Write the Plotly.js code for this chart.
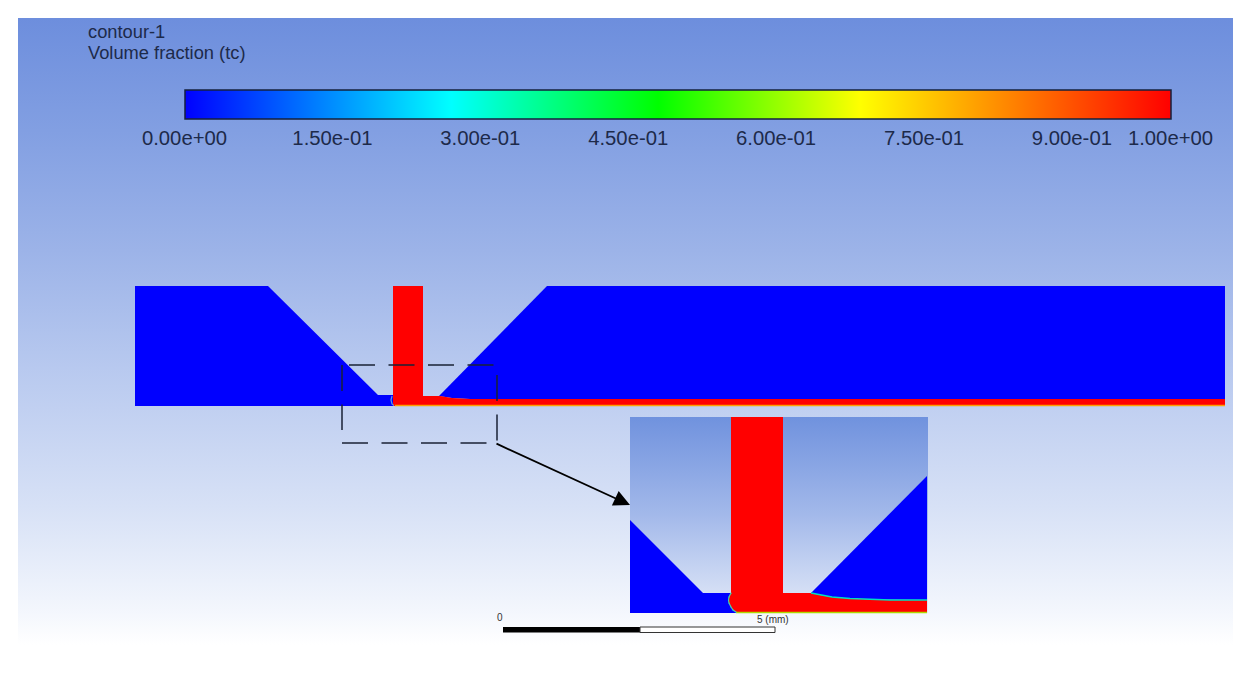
<!DOCTYPE html>
<html>
    <head>
        <meta charset="utf-8">
        <title>contour-1</title>
        <script src="https://cdn.plot.ly/plotly-3.0.1.min.js"></script>
        <style type="text/css">
            html, body {margin:0; padding:0; background:#fff;}
            #chart {width:1250px; height:680px;}
        </style>
    </head>

    <body>
        <div id="chart"></div>
        <script>
            // colour bar
            var barTickVals = [0, 0.15, 0.3, 0.45, 0.6, 0.75, 0.9, 1];
            var barTickText = ['0.00e+00', '1.50e-01', '3.00e-01', '4.50e-01', '6.00e-01', '7.50e-01', '9.00e-01', '1.00e+00'];
            var barStops = [0, 0.27, 0.48, 0.685, 1];
            var barColors = ['#0000ff', '#00ffff', '#00ff00', '#ffff00', '#ff0000'];

            // viewport background, top to bottom
            var bgX = [18, 1233, 1233, 18];
            var bgY = [18, 18, 645, 645];
            var insetBgX = [630, 928, 928, 630];
            var insetBgY = [417, 417, 613, 613];
            var bgStops = [0, 0.18, 0.37, 0.56, 0.78, 0.95, 1];
            var bgColors = ['#6d8edd', '#829fe2', '#9cb3e8', '#b8c9ef', '#d7e1f6', '#f4f7fd', '#ffffff'];
            var insetStops = [0, 0.5, 1];
            var insetColors = ['#7092de', '#a3b9ea', '#e2e9f8'];

            // main view, pixels of the picture
            var leftBlueX = [135, 268, 378, 393, 393, 135];
            var leftBlueY = [286, 286, 395, 395, 406, 406];
            var rightBlueX = [439, 547, 1225, 1225, 470, 452];
            var rightBlueY = [396, 286, 286, 399, 399, 398];
            var redX = [393, 423, 423, 440, 452, 470, 1225, 1225, 393];
            var redY = [286, 286, 396, 396, 398, 399, 399, 406, 406];
            var filmX = [395, 1225];
            var filmY = [405.5, 405.5];
            var mainNozzleX = [392, 391, 392, 394];
            var mainNozzleY = [396, 400, 404, 405.5];

            // zoomed view
            var insetLeftX = [630, 703, 731, 729, 728.5, 729, 731, 733, 736, 736, 630];
            var insetLeftY = [520, 593, 593, 597, 600, 603, 607, 610, 612, 613, 613];
            var insetRightX = [811, 927, 927, 890, 870, 850, 832, 820];
            var insetRightY = [593, 476, 600, 600, 599.5, 598.5, 597, 595];
            var insetRedX = [731, 783, 783, 811, 820, 832, 850, 870, 890, 927, 927, 736, 733, 731, 729, 728.5, 729, 731];
            var insetRedY = [417, 417, 593, 593, 595, 597, 598.5, 599.5, 600, 600, 612, 612, 610, 607, 603, 600, 597, 593];
            var lowerEdgeX = [736, 927];
            var lowerEdgeY = [612.5, 612.5];
            var upperEdgeX = [811, 820, 832, 850, 870, 890, 927];
            var upperEdgeY = [593, 595, 597, 598.5, 599.5, 600, 600];
            var nozzleEdgeX = [731, 729, 728.5, 729, 731, 733, 736];
            var nozzleEdgeY = [593, 597, 600, 603, 607, 610, 612];
            var edgeValues = [0.3, 0.3, 0.3, 0.3, 0.3, 0.3, 0.3];

            // dashed box round the zoomed region, one run per side
            var boxX = [349, 497, null, 497, 497, null, 342, 487, null, 342, 342];
            var boxY = [365, 365, null, 375, 443, null, 443, 443, null, 365, 430];

            // scale bar
            var scaleBlackX = [503, 640, 640, 503];
            var scaleWhiteX = [640, 775, 775, 640];
            var scaleY = [627, 627, 632.5, 632.5];

            function scaleOf(stops, colors) {
                return stops.map(function (s, i) { return [s, colors[i]]; });
            }

            function polygon(x, y, color) {
                return {type: 'scatter', x: x, y: y, mode: 'lines', fill: 'toself', fillcolor: color,
                    line: {width: 0, color: color}, hoverinfo: 'skip', showlegend: false};
            }

            function edge(x, y, color, width) {
                return {type: 'scatter', x: x, y: y, mode: 'lines', line: {color: color, width: width},
                    hoverinfo: 'skip', showlegend: false};
            }

            function backdrop(x, y, stops, colors) {
                var t = polygon(x, y, '#ffffff');
                t.fillgradient = {type: 'vertical', colorscale: scaleOf(stops, colors), start: y[0], stop: y[2]};
                return t;
            }

            var dashedBox = edge(boxX, boxY, '#1a2236', 1.5);
            dashedBox.line.dash = '26px 13.5px';

            var traces = [
                backdrop(bgX, bgY, bgStops, bgColors),
                polygon(leftBlueX, leftBlueY, '#0000ff'),
                polygon(rightBlueX, rightBlueY, '#0000ff'),
                polygon(redX, redY, '#ff0000'),
                edge(filmX, filmY, '#ffa000', 1.5),
                edge(mainNozzleX, mainNozzleY, '#5f9be0', 1.2),
                backdrop(insetBgX, insetBgY, insetStops, insetColors),
                polygon(insetLeftX, insetLeftY, '#0000ff'),
                polygon(insetRightX, insetRightY, '#0000ff'),
                polygon(insetRedX, insetRedY, '#ff0000'),
                edge(upperEdgeX, upperEdgeY, '#00e0c0', 1.5),
                edge(lowerEdgeX, lowerEdgeY, '#b0d800', 1.5),
                dashedBox,
                polygon(scaleBlackX, scaleY, '#000000'),
                polygon(scaleWhiteX, scaleY, '#ffffff'),
                edge(scaleWhiteX.concat([640]), scaleY.concat([627]), '#333333', 1),
                {
                    type: 'scatter', x: nozzleEdgeX, y: nozzleEdgeY, mode: 'lines+markers',
                    line: {color: '#50c8a0', width: 1.2}, hoverinfo: 'skip', showlegend: false,
                    marker: {
                        size: 1, color: edgeValues, cmin: 0, cmax: 1,
                        colorscale: scaleOf(barStops, barColors),
                        showscale: true,
                        colorbar: {
                            orientation: 'h', thickness: 29, thicknessmode: 'pixels',
                            len: 986, lenmode: 'pixels', xpad: 0, ypad: 0,
                            x: 677.5 / 1250, xanchor: 'center', xref: 'paper',
                            y: 1 - 90 / 680, yanchor: 'top', yref: 'paper',
                            outlinecolor: '#14203c', outlinewidth: 1.5, borderwidth: 0,
                            tickmode: 'array', tickvals: barTickVals, ticktext: barTickText,
                            ticks: 'outside', ticklen: 1, tickcolor: 'rgba(0,0,0,0)',
                            tickfont: {family: 'Liberation Sans', size: 20.3, color: '#1d2a4a'}
                        }
                    }
                }
            ];

            var textFont = {family: 'Liberation Sans', size: 18.3, color: '#1d2a4a'};
            var smallFont = {family: 'Liberation Sans', size: 10, color: '#333333'};

            var layout = {
                width: 1250,
                height: 680,
                margin: {l: 0, r: 0, t: 0, b: 0},
                paper_bgcolor: '#ffffff',
                plot_bgcolor: '#ffffff',
                showlegend: false,
                xaxis: {range: [0, 1250], visible: false, fixedrange: true},
                yaxis: {range: [680, 0], visible: false, fixedrange: true},
                annotations: [
                    {x: 86, y: 31, xref: 'x', yref: 'y', text: 'contour-1', showarrow: false, xanchor: 'left', yanchor: 'middle', font: textFont},
                    {x: 86, y: 52, xref: 'x', yref: 'y', text: 'Volume fraction (tc)', showarrow: false, xanchor: 'left', yanchor: 'middle', font: textFont},
                    {x: 500, y: 617, xref: 'x', yref: 'y', text: '0', showarrow: false, font: smallFont},
                    {x: 773, y: 619, xref: 'x', yref: 'y', text: '5 (mm)', showarrow: false, font: smallFont},
                    {x: 630, y: 505, ax: 495, ay: 443, xref: 'x', yref: 'y', axref: 'x', ayref: 'y', text: '',
                        showarrow: true, arrowhead: 2, arrowsize: 1.8, arrowwidth: 1.8, arrowcolor: '#000000'}
                ]
            };

            Plotly.newPlot('chart', traces, layout, {displayModeBar: false, staticPlot: true});
        </script>
    </body>
</html>
